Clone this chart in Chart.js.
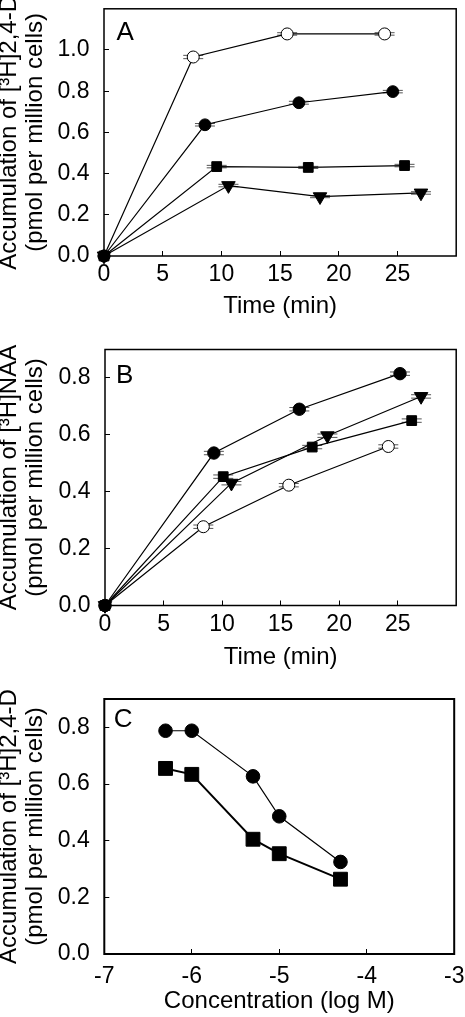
<!DOCTYPE html>
<html><head><meta charset="utf-8">
<script src="https://cdn.jsdelivr.net/npm/chart.js@4/dist/chart.umd.min.js"></script>
<style>
html,body{margin:0;padding:0;background:#fff;}
#wrap{position:relative;width:465px;height:1017px;overflow:hidden;background:#fff;}
canvas{position:absolute;left:0;}
</style></head><body>
<div id="wrap">
<canvas id="cA" width="465" height="330" style="top:0px;width:465px;height:330px"></canvas>
<canvas id="cB" width="465" height="342" style="top:330px;width:465px;height:342px"></canvas>
<canvas id="cC" width="465" height="345" style="top:672px;width:465px;height:345px"></canvas>
</div>
<script>
// ---------- Panel A: [3H]2,4-D accumulation vs time ----------
const timeA_open = [0, 7.6, 15.6, 23.9];
const valA_open  = [0, 0.966, 1.078, 1.078];
const errA_open  = [0, 0.008, 0.006, 0.006];
const timeA_fc   = [0, 8.6, 16.6, 24.6];
const valA_fc    = [0, 0.637, 0.744, 0.798];
const errA_fc    = [0, 0.006, 0.007, 0.006];
const timeA_sq   = [0, 9.6, 17.4, 25.6];
const valA_sq    = [0, 0.434, 0.430, 0.439];
const errA_sq    = [0, 0.006, 0.005, 0.006];
const timeA_tri  = [0, 10.6, 18.4, 27.0];
const valA_tri   = [0, 0.342, 0.288, 0.306];
const errA_tri   = [0, 0.006, 0.005, 0.006];
const xTicksA = [0, 5, 10, 15, 20, 25];
const yTicksA = [0, 0.2, 0.4, 0.6, 0.8, 1.0];

// ---------- Panel B: [3H]NAA accumulation vs time ----------
const timeB_fc   = [0, 9.3, 16.6, 25.2];
const valB_fc    = [0, 0.536, 0.690, 0.815];
const errB_fc    = [0, 0.006, 0.006, 0.006];
const timeB_tri  = [0, 10.8, 19.0, 27.0];
const valB_tri   = [0, 0.430, 0.597, 0.735];
const errB_tri   = [0, 0.006, 0.006, 0.006];
const timeB_sq   = [0, 10.1, 17.7, 26.2];
const valB_sq    = [0, 0.453, 0.557, 0.650];
const errB_sq    = [0, 0.006, 0.006, 0.006];
const timeB_open = [0, 8.4, 15.7, 24.2];
const valB_open  = [0, 0.277, 0.423, 0.559];
const errB_open  = [0, 0.006, 0.006, 0.006];
const xTicksB = [0, 5, 10, 15, 20, 25];
const yTicksB = [0, 0.2, 0.4, 0.6, 0.8];

// ---------- Panel C: [3H]2,4-D accumulation vs concentration ----------
const concC   = [-6.3, -6.0, -5.3, -5.0, -4.3];
const valC_fc = [0.788, 0.788, 0.627, 0.486, 0.325];
const valC_sq = [0.655, 0.634, 0.405, 0.354, 0.264];
const xTicksC = [-7, -6, -5, -4, -3];
const yTicksC = [0, 0.2, 0.4, 0.6, 0.8];

const FONT = "'Liberation Sans', Arial, Helvetica, sans-serif";
Chart.defaults.font.family = FONT;
Chart.defaults.color = '#000';

function pts(xs, ys) { return xs.map((x, i) => ({ x: x, y: ys[i] })); }

const framePlugin = {
  id: 'frame',
  beforeDatasetsDraw(chart, args, o) {
    const a = chart.chartArea, c = chart.ctx;
    c.save();
    c.strokeStyle = '#000';
    c.lineWidth = o.width || 1.5;
    c.strokeRect(a.left, a.top, a.right - a.left, a.bottom - a.top);
    c.restore();
  }
};

const errPlugin = {
  id: 'errbars',
  beforeDatasetsDraw(chart) {
    const c = chart.ctx, ys = chart.scales.y;
    chart.data.datasets.forEach((ds, i) => {
      if (!ds.yErr) return;
      const meta = chart.getDatasetMeta(i);
      meta.data.forEach((pt, j) => {
        const e = ds.yErr[j];
        if (!e) return;
        const v = ds.data[j].y;
        const y1 = ys.getPixelForValue(v + e), y2 = ys.getPixelForValue(v - e);
        c.save();
        c.strokeStyle = '#555';
        c.lineWidth = 1;
        c.beginPath();
        c.moveTo(pt.x - 10, y1); c.lineTo(pt.x + 10, y1);
        c.moveTo(pt.x - 10, y2); c.lineTo(pt.x + 10, y2);
        c.stroke();
        c.restore();
      });
    });
  }
};

const letterPlugin = {
  id: 'letter',
  afterDatasetsDraw(chart, args, o) {
    if (!o.text) return;
    const a = chart.chartArea, c = chart.ctx;
    c.save();
    c.font = '26px ' + FONT;
    c.fillStyle = '#000';
    c.textBaseline = 'alphabetic';
    c.textAlign = 'left';
    c.fillText(o.text, a.left + o.dx, a.top + o.dy);
    c.restore();
  }
};

function panel(id, cfg) {
  const datasets = cfg.series.map(s => ({
    data: pts(s.x, s.y),
    yErr: s.err,
    borderColor: '#000',
    borderWidth: s.lw || 1.2,
    backgroundColor: s.fill,
    pointStyle: s.style,
    pointRadius: s.r,
    pointHoverRadius: s.r,
    pointRotation: s.rot || 0,
    pointBackgroundColor: s.fill,
    pointBorderColor: '#000',
    pointBorderWidth: s.pbw || 1,
    tension: 0,
    fill: false,
    clip: false
  }));
  return new Chart(document.getElementById(id), {
    type: 'line',
    data: { datasets: datasets },
    plugins: [framePlugin, errPlugin, letterPlugin],
    options: {
      responsive: false,
      animation: false,
      events: [],
      layout: { padding: { left: 0, top: cfg.top, right: cfg.right, bottom: 0 } },
      plugins: {
        legend: { display: false },
        tooltip: { enabled: false },
        frame: { width: cfg.frameW },
        letter: { text: cfg.letter, dx: cfg.ldx, dy: cfg.ldy }
      },
      scales: {
        x: {
          type: 'linear',
          min: cfg.xmin, max: cfg.xmax,
          afterBuildTicks: s => { s.ticks = cfg.xTicks.map(v => ({ value: v })); },
          afterFit: s => { s.height = cfg.xh; s.paddingLeft = 0; s.paddingRight = 0; },
          grid: { drawOnChartArea: false, drawTicks: true, tickLength: -5, color: '#000', lineWidth: 1 },
          border: { display: false },
          ticks: { font: { size: 23 }, padding: cfg.xpad, color: '#000', maxRotation: 0, autoSkip: false,
                   callback: v => String(v) },
          title: { display: true, text: cfg.xTitle, font: { size: 24 }, color: '#000',
                   padding: { top: 0, bottom: cfg.xtpad } }
        },
        y: {
          type: 'linear',
          min: 0, max: cfg.ymax,
          afterBuildTicks: s => { s.ticks = cfg.yTicks.map(v => ({ value: v })); },
          afterFit: s => { s.width = cfg.left; s.paddingTop = 0; s.paddingBottom = 0; },
          grid: { drawOnChartArea: false, drawTicks: true, tickLength: -5, color: '#000', lineWidth: 1 },
          border: { display: false },
          ticks: { font: { size: 23 }, padding: 19.5, color: '#000', autoSkip: false,
                   callback: v => Number(v).toFixed(1) },
          title: { display: true, text: cfg.yTitle, font: { size: 24, lineHeight: 1.07 }, color: '#000',
                   padding: { top: -3.4, bottom: 0 } }
        }
      }
    }
  });
}

// Panel A
panel('cA', {
  top: 1, right: 6.7, left: 104, xh: 74, xpad: 10.2, xtpad: 9.2,
  xmin: 0, xmax: 30, ymax: 1.2, xTicks: xTicksA, yTicks: yTicksA, frameW: 1.5,
  xTitle: 'Time (min)',
  yTitle: ['Accumulation of [\u00B3H]2,4-D', '(pmol per million cells)'],
  letter: 'A', ldx: 12.5, ldy: 31.5,
  series: [
    { x: timeA_fc,  y: valA_fc,  err: errA_fc,  style: 'circle',   r: 5.9, fill: '#000' },
    { x: timeA_sq,  y: valA_sq,  err: errA_sq,  style: 'rect',     r: 6.9, fill: '#000' },
    { x: timeA_tri, y: valA_tri, err: errA_tri, style: 'triangle', r: 7.8, rot: 180, fill: '#000' },
    { x: timeA_open, y: valA_open, err: errA_open, style: 'circle', r: 6, fill: '#fff' }
  ]
});

// Panel B
panel('cB', {
  top: 19.5, right: 5.6, left: 105, xh: 66.5, xpad: 10.7, xtpad: 0.2,
  xmin: 0, xmax: 30, ymax: 0.9, xTicks: xTicksB, yTicks: yTicksB, frameW: 1.5,
  xTitle: 'Time (min)',
  yTitle: ['Accumulation of [\u00B3H]NAA', '(pmol per million cells)'],
  letter: 'B', ldx: 11, ldy: 33.5,
  series: [
    { x: timeB_fc,  y: valB_fc,  err: errB_fc,  style: 'circle',   r: 6.2, fill: '#000' },
    { x: timeB_tri, y: valB_tri, err: errB_tri, style: 'triangle', r: 7.8, rot: 180, fill: '#000' },
    { x: timeB_sq,  y: valB_sq,  err: errB_sq,  style: 'rect',     r: 6.9, fill: '#000' },
    { x: timeB_open, y: valB_open, err: errB_open, style: 'circle', r: 6, fill: '#fff' }
  ]
});

// Panel C
panel('cC', {
  top: 27, right: 2.5, left: 104.3, xh: 63, xpad: 13.7, xtpad: 1,
  xmin: -7, xmax: -3, ymax: 0.9, xTicks: xTicksC, yTicks: yTicksC, frameW: 2,
  xTitle: 'Concentration (log M)',
  yTitle: ['Accumulation of [\u00B3H]2,4-D', '(pmol per million cells)'],
  letter: 'C', ldx: 9.5, ldy: 27.5,
  series: [
    { x: concC, y: valC_fc, style: 'circle', r: 6.8, fill: '#000', lw: 1.2 },
    { x: concC, y: valC_sq, style: 'rect',   r: 9.8, fill: '#000', lw: 2 }
  ]
});
</script>
</body></html>
